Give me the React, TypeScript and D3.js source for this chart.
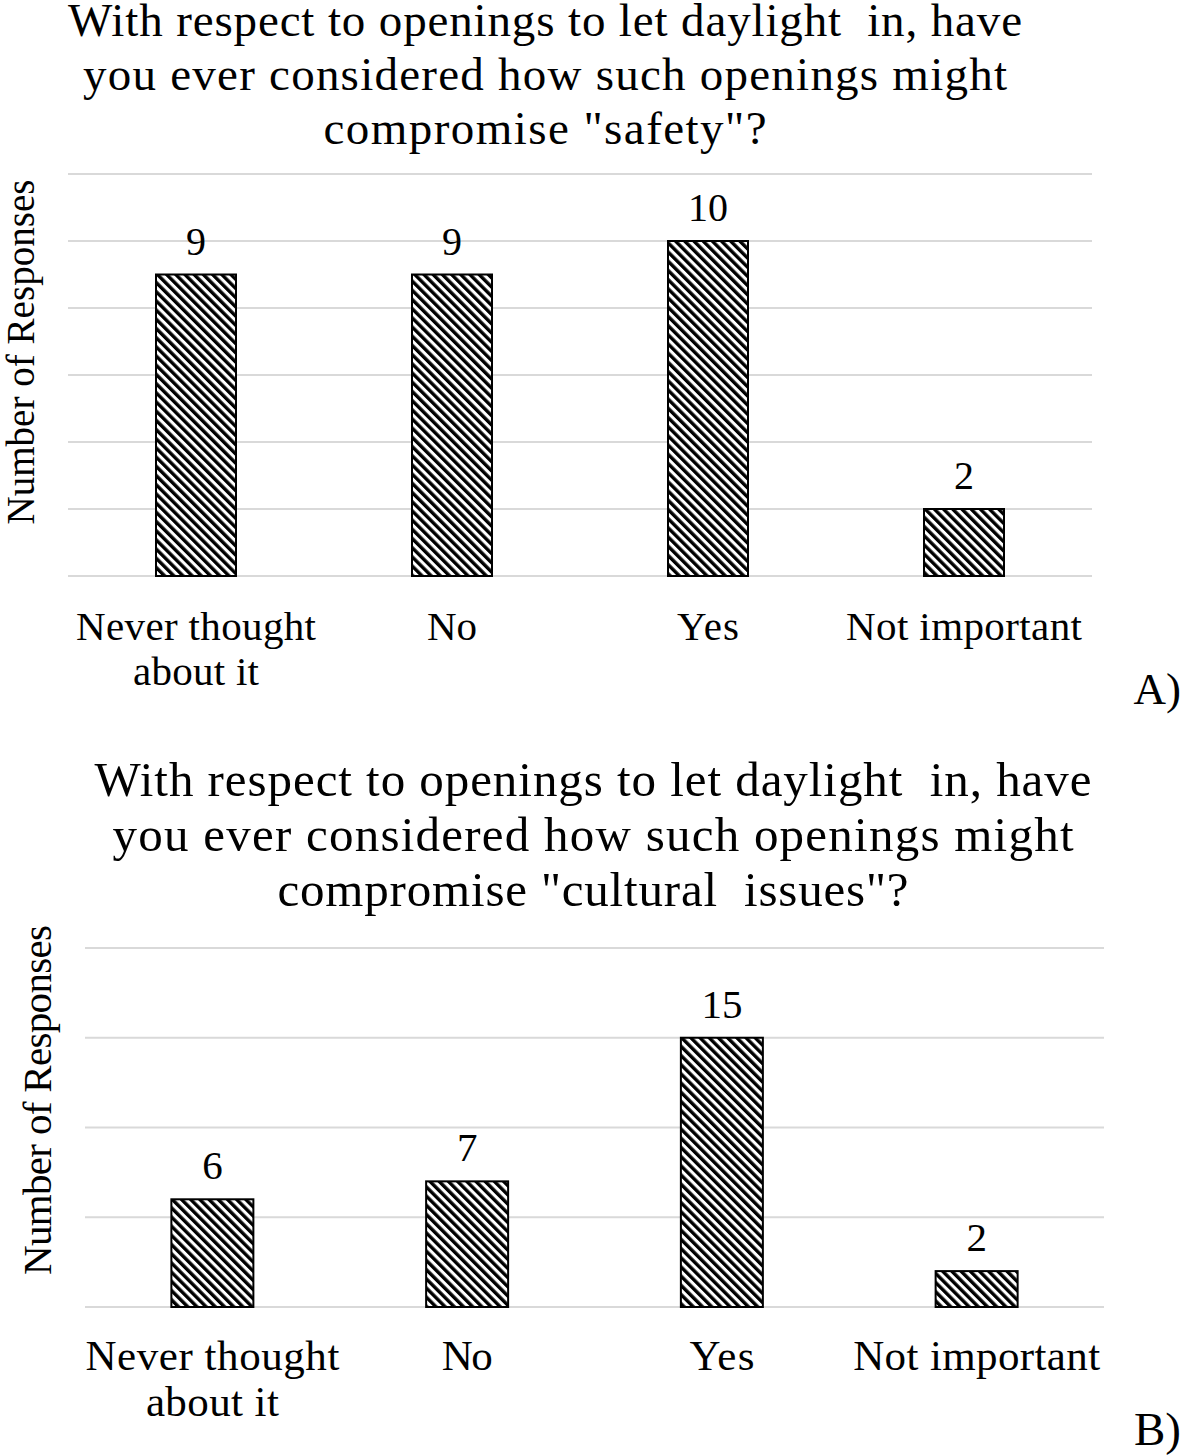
import React from "react";
import * as d3 from "d3";

const categories = ["Never thought about it", "No", "Yes", "Not important"];
const safetyValues = [9, 9, 10, 2];
const culturalValues = [6, 7, 15, 2];
const safetyTicks = [0, 2, 4, 6, 8, 10, 12];
const culturalTicks = [0, 5, 10, 15, 20];
const safetyTitle = [
  "With respect to openings to let daylight  in, have",
  "you ever considered how such openings might",
  'compromise "safety"?',
];
const culturalTitle = [
  "With respect to openings to let daylight  in, have",
  "you ever considered how such openings might",
  'compromise "cultural  issues"?',
];
const catLines: Record<string, string[]> = {
  "Never thought about it": ["Never thought", "about it"],
  No: ["No"],
  Yes: ["Yes"],
  "Not important": ["Not important"],
};

const FONT = "'Liberation Serif', 'Times New Roman', serif";

type Layout = {
  x0: number; x1: number; yTop: number; yBase: number; max: number;
  titleX: number; titleY: number; titleStep: number; titleSize: number; titleW: number[];
  labelSize: number; catY: number; catStep: number; barW: number; catW: Record<string, number[]>;
  yLabX: number; yLabY: number; yLabW: number; tag: string; tagX: number; tagY: number;
  valSize: number;
};

function Chart({ values, ticks, title, L, pid }: { values: number[]; ticks: number[]; title: string[]; L: Layout; pid: string }) {
  const x = d3.scaleBand<string>().domain(categories).range([L.x0, L.x1]);
  const y = d3.scaleLinear().domain([0, L.max]).range([L.yBase, L.yTop]);
  return (
    <g>
      {title.map((t, i) => (
        <text key={i} x={L.titleX} y={L.titleY + i * L.titleStep} textAnchor="middle" fontSize={L.titleSize} textLength={L.titleW[i]} lengthAdjust="spacing" style={{ whiteSpace: "pre" }}>{t}</text>
      ))}
      {ticks.map((t) => (
        <line key={t} x1={L.x0} x2={L.x1} y1={y(t)} y2={y(t)} stroke="#d9d9d9" strokeWidth={2} />
      ))}
      {categories.map((c, i) => {
        const cx = x(c)! + x.bandwidth() / 2;
        const v = values[i];
        return (
          <g key={c}>
            <rect x={cx - L.barW / 2} y={y(v)} width={L.barW} height={L.yBase - y(v)} fill={`url(#${pid})`} stroke="#000" strokeWidth={2} />
            <text x={cx} y={y(v) - 20} textAnchor="middle" fontSize={L.valSize}>{v}</text>
            {catLines[c].map((ln, j) => (
              <text key={j} x={cx} y={L.catY + j * L.catStep} textAnchor="middle" fontSize={L.labelSize} textLength={L.catW[c][j]} lengthAdjust="spacing">{ln}</text>
            ))}
          </g>
        );
      })}
      <text transform={`translate(${L.yLabX},${L.yLabY}) rotate(-90)`} textAnchor="middle" fontSize={L.labelSize - 2} textLength={L.yLabW} lengthAdjust="spacing">Number of Responses</text>
      <text x={L.tagX} y={L.tagY} textAnchor="end" fontSize={L.titleSize - 2}>{L.tag}</text>
    </g>
  );
}

const LA: Layout = {
  x0: 68, x1: 1092, yTop: 174, yBase: 576, max: 12,
  titleX: 545, titleY: 36, titleStep: 54, titleSize: 47, titleW: [954, 924, 443],
  labelSize: 41, catY: 640, catStep: 45, barW: 80,
  catW: { "Never thought about it": [240, 126], No: [50], Yes: [62], "Not important": [236] },
  yLabX: 34, yLabY: 352, yLabW: 345, tag: "A)", tagX: 1181, tagY: 704, valSize: 40,
};
const LB: Layout = {
  x0: 85, x1: 1104, yTop: 948, yBase: 1307, max: 20,
  titleX: 593, titleY: 796, titleStep: 55, titleSize: 49, titleW: [997, 961, 631],
  labelSize: 43, catY: 1370, catStep: 46, barW: 82,
  catW: { "Never thought about it": [254, 133], No: [51], Yes: [65], "Not important": [247] },
  yLabX: 51, yLabY: 1100, yLabW: 350, tag: "B)", tagX: 1181, tagY: 1445, valSize: 41,
};

export default function App() {
  return (
    <svg width={1181} height={1455} style={{ position: "absolute", left: 0, top: 0, background: "#fff" }} fontFamily={FONT}>
      <defs>
        <pattern id="hatch" patternUnits="userSpaceOnUse" width={6.5} height={6.5} patternTransform="rotate(-45)">
          <rect width={6.5} height={6.5} fill="#fff" />
          <rect width={3.4} height={6.5} fill="#000" />
        </pattern>
      </defs>
      <rect width={1181} height={1455} fill="#fff" />
      <Chart values={safetyValues} ticks={safetyTicks} title={safetyTitle} L={LA} pid="hatch" />
      <Chart values={culturalValues} ticks={culturalTicks} title={culturalTitle} L={LB} pid="hatch" />
    </svg>
  );
}
